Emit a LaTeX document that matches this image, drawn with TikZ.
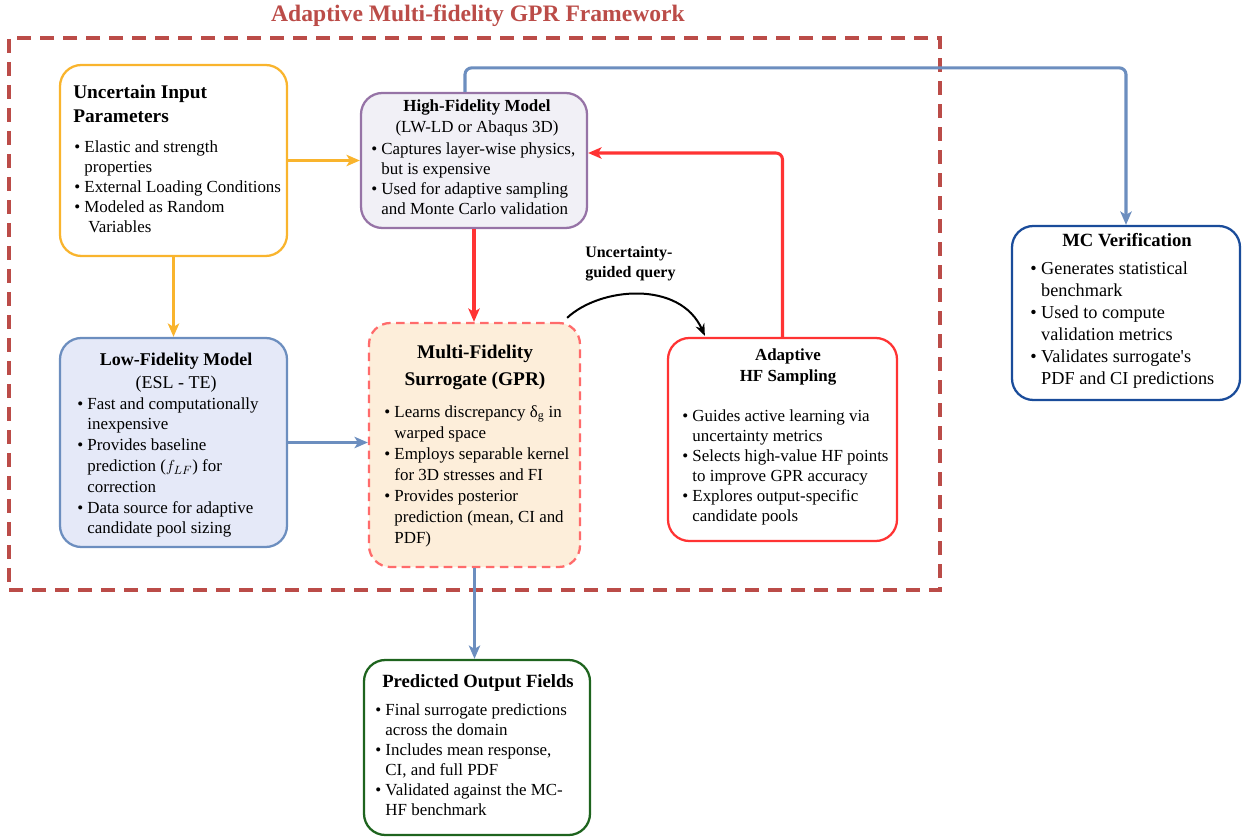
\documentclass[tikz,border=0pt]{standalone}
\usepackage{fontspec}
\setmainfont{Liberation Serif}
\usetikzlibrary{arrows.meta,calc}
\definecolor{frmc}{RGB}{187,76,72}
\definecolor{orng}{RGB}{249,180,45}
\definecolor{purp}{RGB}{150,115,166}
\definecolor{purpf}{RGB}{241,240,246}
\definecolor{blu}{RGB}{108,142,191}
\definecolor{bluf}{RGB}{229,233,248}
\definecolor{mfr}{RGB}{255,107,107}
\definecolor{mff}{RGB}{253,238,218}
\definecolor{redc}{RGB}{255,51,51}
\definecolor{mcb}{RGB}{26,76,154}
\definecolor{grn}{RGB}{30,100,30}
\newcommand\bl{\textbullet\ }
\newcommand\ci{\phantom{\textbullet\ }}
\begin{document}
\begin{tikzpicture}[x=0.75pt,y=-0.75pt,
  box/.style={rounded corners=16pt, line width=1.7pt, inner sep=0pt},
  body/.style={anchor=north west, align=left, inner sep=0pt, font=\fontsize{12.7}{15}\selectfont},
  ttl/.style={align=center, inner sep=0pt, font=\bfseries\fontsize{12.7}{15.75}\selectfont},
  arr/.style={line width=2.3pt, -{Stealth[length=10pt,width=8.5pt,inset=2.5pt]}}]
\useasboundingbox (0,0) rectangle (1249,837);

\node[text=frmc, font=\bfseries\fontsize{17.7}{20}\selectfont, anchor=base, inner sep=0pt] (title) at (478,22) {Adaptive Multi-fidelity GPR Framework};
\node[draw=frmc, line width=2.4pt, dash pattern=on 10.5pt off 6.75pt, minimum width=698.25pt, minimum height=414pt, inner sep=0pt] (frm) at (474.5,314) {};

% boxes
\node[box, draw=orng, fill=white, minimum width=170.25pt, minimum height=143.25pt] (inp) at (173.5,160.5) {};
\node[box, draw=purp, fill=purpf, minimum width=169.5pt, minimum height=101.25pt] (hf) at (474,160.5) {};
\node[box, draw=blu, fill=bluf, minimum width=170.25pt, minimum height=156.75pt] (lf) at (173.5,442.5) {};
\node[box, draw=mfr, fill=mff, dash pattern=on 6.5pt off 4pt, line width=1.7pt, minimum width=158.25pt, minimum height=183pt] (mf) at (474.5,445) {};
\node[box, draw=redc, fill=white, minimum width=171.75pt, minimum height=152.25pt] (ahf) at (782.5,439.5) {};
\node[box, draw=mcb, fill=white, minimum width=171pt, minimum height=130.5pt] (mc) at (1126,313) {};
\node[box, draw=grn, fill=white, minimum width=169.5pt, minimum height=131.25pt] (out) at (477,747.5) {};

% texts
\node[ttl, align=left, anchor=north west, font=\bfseries\fontsize{14.5}{18}\selectfont] (inpT) at (73,85) {Uncertain Input\\Parameters};
\node[body] (inpB) at (74,140) {\bl Elastic and strength\\\ci properties\\\bl External Loading Conditions\\\bl Modeled as Random\\\ci\hspace*{3pt}Variables};

\node[ttl, anchor=north, font=\fontsize{12.7}{15.75}\selectfont] (hfT) at (477,99.5) {\textbf{High-Fidelity Model}\\(LW-LD or Abaqus 3D)};
\node[body] (hfB) at (371,142) {\bl Captures layer-wise physics,\\\ci but is expensive\\\bl Used for adaptive sampling\\\ci and Monte Carlo validation};

\node[ttl, anchor=north, font=\fontsize{13.5}{17}\selectfont] (lfT) at (176,353) {\textbf{Low-Fidelity Model}\\(ESL - TE)};
\node[body, font=\fontsize{12.7}{15.6}\selectfont] (lfB) at (77,397) {\bl Fast and computationally\\\ci inexpensive\\\bl Provides baseline\\\ci prediction ($f_{LF}$) for\\\ci correction\\\bl Data source for adaptive\\\ci candidate pool sizing};

\node[ttl, anchor=north, font=\bfseries\fontsize{14.5}{20}\selectfont] (mfT) at (475,345) {Multi-Fidelity\\Surrogate (GPR)};
\node[body, font=\fontsize{12.7}{15.75}\selectfont] (mfB) at (384,405) {\bl Learns discrepancy δ\textsubscript{g} in\\\ci warped space\\\bl Employs separable kernel\\\ci for 3D stresses and FI\\\bl Provides posterior\\\ci prediction (mean, CI and\\\ci PDF)};

\node[ttl, anchor=north] (ahfT) at (788,348.5) {Adaptive\\HF Sampling};
\node[body, font=\fontsize{12.7}{15}\selectfont] (ahfB) at (682,409) {\bl Guides active learning via\\\ci uncertainty metrics\\\bl Selects high-value HF points\\\ci to improve GPR accuracy\\\bl Explores output-specific\\\ci candidate pools};

\node[ttl, anchor=base, font=\bfseries\fontsize{14}{16}\selectfont] (mcT) at (1127,247) {MC Verification};
\node[body, font=\fontsize{13.7}{16.4}\selectfont] (mcB) at (1030,262) {\bl Generates statistical\\\ci benchmark\\\bl Used to compute\\\ci validation metrics\\\bl Validates surrogate\textquotesingle s\\\ci PDF and CI predictions};

\node[ttl, anchor=base, font=\bfseries\fontsize{14}{16}\selectfont] (outT) at (478,687) {Predicted Output Fields};
\node[body, font=\fontsize{12.7}{15}\selectfont] (outB) at (375,703) {\bl Final surrogate predictions\\\ci across the domain\\\bl Includes mean response,\\\ci CI, and full PDF\\\bl Validated against the MC-\\\ci HF benchmark};

\node[body, font=\bfseries\fontsize{12}{15}\selectfont] (uq) at (585,246) {Uncertainty-\\guided query};

% arrows
\draw[arr, orng] (inp.east) -- (hf.west);
\draw[arr, orng] (inp.south) -- (lf.north);
\draw[arr, redc] (hf.south) -- (hf.south |- mf.north);
\draw[arr, blu] (lf.east) -- (lf.east -| mf.west);
\draw[arr, blu] (mf.south) -- (mf.south |- out.north);
\draw[arr, redc, rounded corners=5pt] (ahf.north) |- ($(hf.east)+(0,-7.5)$);
\draw[arr, blu, rounded corners=5pt] ($(hf.north)+(-9,0)$) -- ++(0,-24) -| (mc.north);
\draw[line width=1.5pt, -{Stealth[length=9pt,width=7pt]}] ($(mf.north east)+(-14,-4)$) .. controls (600,287) and (680,280) .. ($(ahf.north west)+(38,-1)$);
\end{tikzpicture}
\end{document}
